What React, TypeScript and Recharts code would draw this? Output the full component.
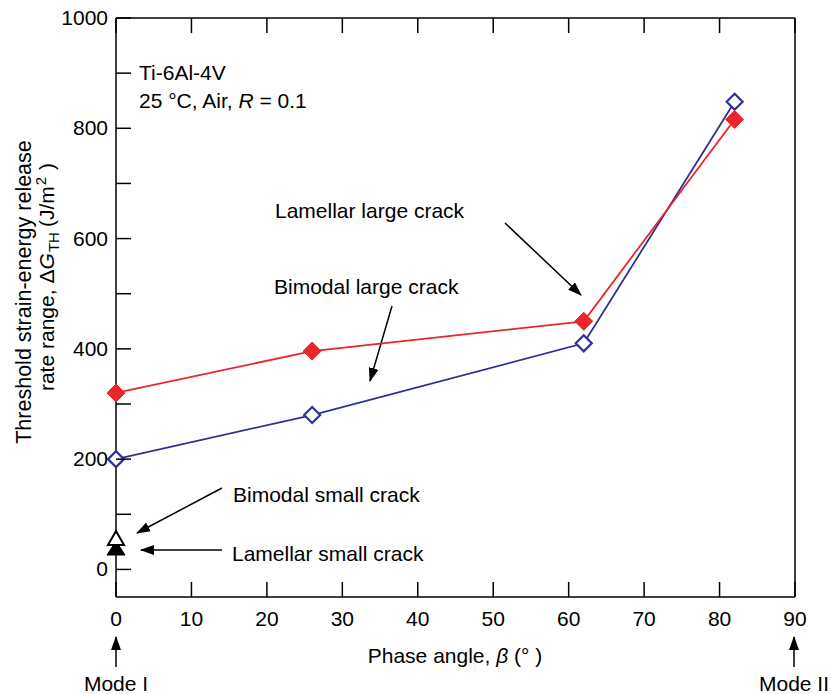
import React from "react";
import { ComposedChart, Line, Scatter, XAxis, YAxis } from "recharts";

const phaseAngle = [0, 26, 62, 82];
const lamellarLarge = [320, 396, 450, 816];
const bimodalLarge = [200, 280, 410, 848];
const smallCrackAngle = [0];
const bimodalSmall = [55];
const lamellarSmall = [37];
const xTicks = [0, 10, 20, 30, 40, 50, 60, 70, 80, 90];
const yTicks = [0, 100, 200, 300, 400, 500, 600, 700, 800, 900, 1000];

const data = phaseAngle.map((x, i) => ({ x, lam: lamellarLarge[i], bim: bimodalLarge[i] }));
const bsData = smallCrackAngle.map((x, i) => ({ x, bs: bimodalSmall[i] }));
const lsData = smallCrackAngle.map((x, i) => ({ x, ls: lamellarSmall[i] }));

const RED = "#e8262b";
const BLUE = "#2e3192";
const FONT = "'Liberation Sans', Arial, Helvetica, sans-serif";
const FS = 21;
const TL = 15;

const BottomTick = (p: any) => (
  <g>
    <line x1={p.x} x2={p.x} y1={p.y} y2={p.y - TL} stroke="#000" strokeWidth={1.5} />
    <text x={p.x} y={p.y + 29} textAnchor="middle" fontSize={FS} fontFamily={FONT} fill="#000">
      {p.payload.value}
    </text>
  </g>
);
const TopTick = (p: any) => (
  <line x1={p.x} x2={p.x} y1={p.y} y2={p.y + TL} stroke="#000" strokeWidth={1.5} />
);
const LeftTick = (p: any) => (
  <g>
    <line x1={p.x} x2={p.x + TL} y1={p.y} y2={p.y} stroke="#000" strokeWidth={1.5} />
    {p.payload.value % 200 === 0 ? (
      <text x={p.x - 8} y={p.y + 7} textAnchor="end" fontSize={FS} fontFamily={FONT} fill="#000">
        {p.payload.value}
      </text>
    ) : null}
  </g>
);
const RightTick = (p: any) => (
  <line x1={p.x} x2={p.x - TL} y1={p.y} y2={p.y} stroke="#000" strokeWidth={1.5} />
);

const FilledDiamond = (p: any) => {
  const { cx, cy } = p;
  if (cx == null || cy == null) return null;
  const r = 9;
  return <polygon points={`${cx},${cy - r} ${cx + r},${cy} ${cx},${cy + r} ${cx - r},${cy}`} fill={RED} stroke={RED} />;
};
const OpenDiamond = (p: any) => {
  const { cx, cy } = p;
  if (cx == null || cy == null) return null;
  const r = 8;
  return <polygon points={`${cx},${cy - r} ${cx + r},${cy} ${cx},${cy + r} ${cx - r},${cy}`} fill="#fff" stroke={BLUE} strokeWidth={2.2} />;
};
const OpenTriangle = (p: any) => {
  const { cx, cy } = p;
  if (cx == null || cy == null) return null;
  return <polygon points={`${cx},${cy - 8} ${cx + 8},${cy + 6} ${cx - 8},${cy + 6}`} fill="#fff" stroke="#000" strokeWidth={2} />;
};
const FilledTriangle = (p: any) => {
  const { cx, cy } = p;
  if (cx == null || cy == null) return null;
  return <polygon points={`${cx},${cy - 8} ${cx + 9},${cy + 6} ${cx - 9},${cy + 6}`} fill="#000" stroke="#000" strokeWidth={1} />;
};

const txt = { fontSize: FS, fontFamily: FONT, fill: "#000" } as const;

export default function App() {
  return (
    <div style={{ position: "absolute", left: 0, top: 0, width: 831, height: 694, background: "#fff" }}>
      <ComposedChart
        width={831}
        height={694}
        data={data}
        margin={{ top: 8, right: 6, bottom: 67, left: 56 }}
      >
        <defs>
          <marker id="ah" markerWidth="14" markerHeight="10" refX="13" refY="5" orient="auto" markerUnits="userSpaceOnUse">
            <path d="M0,0 L14,5 L0,10 Z" fill="#000" />
          </marker>
        </defs>
        <XAxis
          xAxisId="b"
          dataKey="x"
          type="number"
          domain={[0, 90]}
          ticks={xTicks}
          orientation="bottom"
          height={30}
          tickSize={0}
          tickMargin={0}
          tick={<BottomTick />}
          axisLine={{ stroke: "#000", strokeWidth: 1.5 }}
          interval={0}
        />
        <XAxis
          xAxisId="t"
          dataKey="x"
          type="number"
          domain={[0, 90]}
          ticks={xTicks}
          orientation="top"
          height={10}
          tickSize={0}
          tickMargin={0}
          tick={<TopTick />}
          axisLine={{ stroke: "#000", strokeWidth: 1.5 }}
          interval={0}
        />
        <YAxis
          yAxisId="l"
          type="number"
          domain={[-50, 1000]}
          ticks={yTicks}
          orientation="left"
          width={60}
          tickSize={0}
          tickMargin={0}
          tick={<LeftTick />}
          axisLine={{ stroke: "#000", strokeWidth: 1.5 }}
          interval={0}
        />
        <YAxis
          yAxisId="r"
          type="number"
          domain={[-50, 1000]}
          ticks={yTicks}
          orientation="right"
          width={30}
          tickSize={0}
          tickMargin={0}
          tick={<RightTick />}
          axisLine={{ stroke: "#000", strokeWidth: 1.5 }}
          interval={0}
        />
        <Line
          xAxisId="b"
          yAxisId="l"
          dataKey="bim"
          stroke={BLUE}
          strokeWidth={1.8}
          dot={<OpenDiamond />}
          isAnimationActive={false}
        />
        <Line
          xAxisId="b"
          yAxisId="l"
          dataKey="lam"
          stroke={RED}
          strokeWidth={1.8}
          dot={<FilledDiamond />}
          isAnimationActive={false}
        />
        <Scatter xAxisId="b" yAxisId="l" data={lsData} dataKey="ls" shape={<FilledTriangle />} isAnimationActive={false} />
        <Scatter xAxisId="b" yAxisId="l" data={bsData} dataKey="bs" shape={<OpenTriangle />} isAnimationActive={false} />
        <g>
          <text x={139} y={80} {...txt}>Ti-6Al-4V</text>
          <text x={139} y={108} {...txt}>
            25 °C, Air, <tspan fontStyle="italic">R</tspan> = 0.1
          </text>
          <text x={275} y={218} {...txt}>Lamellar large crack</text>
          <text x={274} y={294} {...txt}>Bimodal large crack</text>
          <text x={233} y={502} {...txt}>Bimodal small crack</text>
          <text x={232} y={561} {...txt}>Lamellar small crack</text>
          <line x1={505} y1={223} x2={581} y2={295} stroke="#000" strokeWidth={1.5} markerEnd="url(#ah)" />
          <line x1={392} y1={306} x2={370} y2={381} stroke="#000" strokeWidth={1.5} markerEnd="url(#ah)" />
          <line x1={222} y1={488} x2={137} y2={533} stroke="#000" strokeWidth={1.5} markerEnd="url(#ah)" />
          <line x1={222} y1={550} x2={141} y2={550} stroke="#000" strokeWidth={1.5} markerEnd="url(#ah)" />
          <line x1={116} y1={667} x2={116} y2={637} stroke="#000" strokeWidth={1.5} markerEnd="url(#ah)" />
          <line x1={794} y1={667} x2={794} y2={637} stroke="#000" strokeWidth={1.5} markerEnd="url(#ah)" />
          <text x={116} y={691} textAnchor="middle" {...txt}>Mode I</text>
          <text x={794} y={691} textAnchor="middle" {...txt}>Mode II</text>
          <text x={455} y={663} textAnchor="middle" {...txt}>
            Phase angle, <tspan fontStyle="italic">β</tspan> (° )
          </text>
          <text transform="translate(31,292) rotate(-90)" textAnchor="middle" {...txt} fontSize={21.5}>
            Threshold strain-energy release
          </text>
          <text transform="translate(54,277) rotate(-90)" textAnchor="middle" {...txt}>
            rate range,<tspan dx={6}>Δ</tspan>
            <tspan fontStyle="italic">G</tspan>
            <tspan fontSize={15} dx={1} dy={5}>TH</tspan>
            <tspan dx={5} dy={-5}>(J/m</tspan>
            <tspan fontSize={15} dx={1} dy={-8}>2</tspan>
            <tspan dx={7} dy={8}>)</tspan>
          </text>
        </g>
      </ComposedChart>
    </div>
  );
}
